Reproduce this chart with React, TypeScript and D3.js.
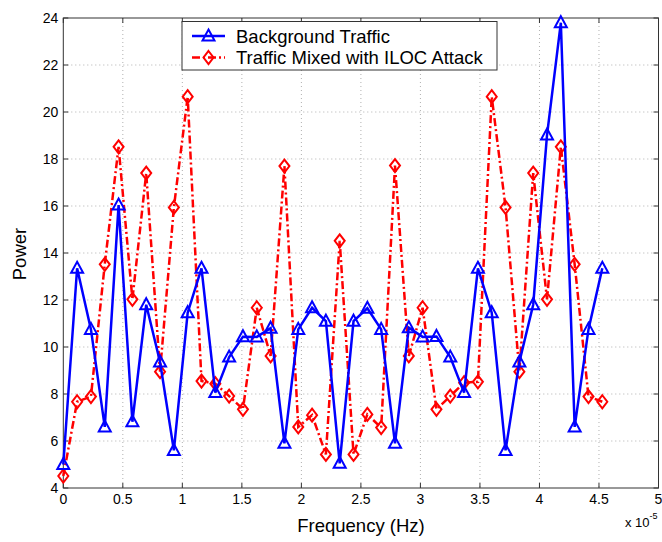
import React from "react";
import * as d3 from "d3";

const W = 662;
const H = 542;

// frequency index (x = index * step, in units of 1e-5 Hz)
const freqStep = 0.1161;
const background = [
  5.0, 13.35, 10.75, 6.6, 16.04, 6.82, 11.8, 9.36, 5.6, 11.46,
  13.35, 8.06, 9.57, 10.44, 10.43, 10.8, 5.9, 10.75, 11.67, 11.1,
  5.05, 11.1, 11.65, 10.75, 5.9, 10.82, 10.43, 10.45, 9.57, 8.06,
  13.35, 11.46, 5.6, 9.36, 11.8, 19.02, 23.8, 6.6, 10.75, 13.35,
];
const mixed = [
  4.51, 7.67, 7.89, 13.52, 18.52, 12.03, 17.4, 8.95, 15.94, 20.65,
  8.55, 8.44, 7.91, 7.35, 11.67, 9.62, 17.7, 6.6, 7.1, 5.43,
  14.52, 5.43, 7.13, 6.57, 17.72, 9.62, 11.67, 7.35, 7.91, 8.48,
  8.52, 20.65, 15.94, 8.95, 17.4, 12.03, 18.52, 13.52, 7.89, 7.67,
];
const xTicks = [0, 0.5, 1, 1.5, 2, 2.5, 3, 3.5, 4, 4.5, 5];
const yTicks = [4, 6, 8, 10, 12, 14, 16, 18, 20, 22, 24];
const seriesNames = ["Background Traffic", "Traffic Mixed with ILOC Attack"];

const L = 63.3, R = 658.5, T = 18, B = 488;
const FONT = "Liberation Sans, Arial, Helvetica, sans-serif";

const x = d3.scaleLinear().domain([0, 5]).range([L, R]);
const y = d3.scaleLinear().domain([4, 24]).range([B, T]);

const BLUE = "#0000ff";
const RED = "#ff0000";

function tri(cx: number, cy: number) {
  return `M${cx},${cy - 6.5} L${cx + 6},${cy + 4.5} L${cx - 6},${cy + 4.5} Z`;
}
function dia(cx: number, cy: number) {
  return `M${cx},${cy - 6.5} L${cx + 5},${cy} L${cx},${cy + 6.5} L${cx - 5},${cy} Z`;
}

export default function App() {
  const line = d3
    .line<number>()
    .x((_, i) => x(i * freqStep))
    .y((d) => y(d));

  return (
    <svg
      width={W}
      height={H}
      style={{ position: "absolute", left: 0, top: 0, background: "#fff" }}
      fontFamily={FONT}
    >
      <rect x={0} y={0} width={W} height={H} fill="#fff" />
      {/* grid */}
      <g stroke="#b0b0b0" strokeWidth={1} strokeDasharray="1,3">
        {xTicks.slice(1, -1).map((t) => (
          <line key={"gx" + t} x1={x(t)} x2={x(t)} y1={T} y2={B} />
        ))}
        {yTicks.slice(1, -1).map((t) => (
          <line key={"gy" + t} x1={L} x2={R} y1={y(t)} y2={y(t)} />
        ))}
      </g>
      {/* axes box */}
      <rect x={L} y={T} width={R - L} height={B - T} fill="none" stroke="#333" strokeWidth={1} />
      <g stroke="#333" strokeWidth={1}>
        {xTicks.map((t) => (
          <g key={"tx" + t}>
            <line x1={x(t)} x2={x(t)} y1={B} y2={B - 5} />
            <line x1={x(t)} x2={x(t)} y1={T} y2={T + 5} />
          </g>
        ))}
        {yTicks.map((t) => (
          <g key={"ty" + t}>
            <line x1={L} x2={L + 5} y1={y(t)} y2={y(t)} />
            <line x1={R} x2={R - 5} y1={y(t)} y2={y(t)} />
          </g>
        ))}
      </g>
      {/* tick labels */}
      <g fontSize={14} fill="#000">
        {xTicks.map((t) => (
          <text key={"lx" + t} x={x(t)} y={504} textAnchor="middle">
            {String(t)}
          </text>
        ))}
        {yTicks.map((t) => (
          <text key={"ly" + t} x={L - 5} y={y(t) + 5} textAnchor="end">
            {String(t)}
          </text>
        ))}
      </g>
      <text x={625} y={527} fontSize={13} fill="#000">
        x 10
        <tspan dy={-8} fontSize={9}>-5</tspan>
      </text>
      <text x={361} y={532} fontSize={18.5} textAnchor="middle" fill="#000">
        Frequency (Hz)
      </text>
      <text
        transform={`translate(25.5,254) rotate(-90)`}
        fontSize={18.5}
        textAnchor="middle"
        fill="#000"
      >
        Power
      </text>
      {/* series: mixed */}
      <path
        d={line(mixed) || ""}
        fill="none"
        stroke={RED}
        strokeWidth={2.5}
        strokeDasharray="8,3,2,3"
      />
      {mixed.map((v, i) => (
        <path key={"m" + i} d={dia(x(i * freqStep), y(v))} fill="none" stroke={RED} strokeWidth={2} />
      ))}
      {/* series: background */}
      <path d={line(background) || ""} fill="none" stroke={BLUE} strokeWidth={2.5} />
      {background.map((v, i) => (
        <path key={"b" + i} d={tri(x(i * freqStep), y(v))} fill="none" stroke={BLUE} strokeWidth={2} />
      ))}
      {/* legend */}
      <rect x={182} y={21.5} width={315} height={48.5} fill="#fff" stroke="#333" strokeWidth={1} />
      <line x1={192} x2={225} y1={36} y2={36} stroke={BLUE} strokeWidth={2.5} />
      <path d={tri(208.5, 36)} fill="none" stroke={BLUE} strokeWidth={2} />
      <text x={236} y={42.5} fontSize={18.5} fill="#000">{seriesNames[0]}</text>
      <line x1={192} x2={225} y1={57.5} y2={57.5} stroke={RED} strokeWidth={2.5} strokeDasharray="8,3,2,3" />
      <path d={dia(208.5, 57.5)} fill="none" stroke={RED} strokeWidth={2} />
      <text x={236} y={64} fontSize={18.5} fill="#000">{seriesNames[1]}</text>
    </svg>
  );
}
